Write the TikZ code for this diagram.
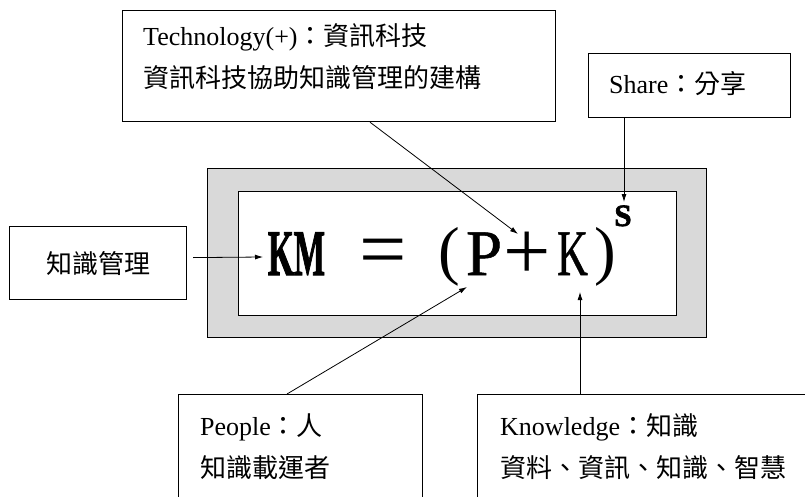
\documentclass[tikz,border=0pt]{standalone}
\usepackage{fontspec}
\setmainfont{Liberation Serif}
\newfontfamily\cjk{Noto Sans CJK TC}
\newfontfamily\heavyserif[FakeBold=2]{Liberation Serif Bold}
\newfontfamily\midserif[FakeBold=0.8]{Liberation Serif}
\usetikzlibrary{arrows.meta}

\begin{document}
\begin{tikzpicture}[x=1pt,y=-1pt,
  box/.style={draw, line width=1.2pt, inner sep=0pt, anchor=north west},
  lbl/.style={anchor=base west, inner sep=0pt, font=\fontsize{26}{26}\selectfont},
  conn/.style={line width=0.8pt, -{Latex[length=8pt,width=5pt]}},
  glyph/.style={anchor=base, inner sep=0pt}]
\useasboundingbox (0,0) rectangle (805,497);
\clip (0,0) rectangle (805,497);

% label boxes
\node[box, minimum width=433pt, minimum height=111pt] (tech) at (122,10) {};
\node[box, minimum width=202pt, minimum height=64pt] (share) at (588,53) {};
\node[box, minimum width=177pt, minimum height=73pt] (kmbox) at (9,226) {};
\node[box, minimum width=244pt, minimum height=140pt] (people) at (178,394) {};
\node[box, minimum width=360pt, minimum height=140pt] (know) at (477,394) {};

% formula frame
\node[box, fill=gray!30, minimum width=499pt, minimum height=169pt] (frame) at (207,168) {};
\node[box, fill=white, minimum width=438pt, minimum height=124pt] (inner) at (238,191) {};

% box texts
\node[lbl] (t1) at (143,46) {Technology(+){\cjk ：資訊科技}};
\node[lbl] (t2) at (143,88) {\cjk 資訊科技協助知識管理的建構};
\node[lbl] (s1) at (609,94) {Share{\cjk ：分享}};
\node[anchor=center, inner sep=0pt, font=\fontsize{26}{26}\selectfont] (k1) at (kmbox.center) {\cjk 知識管理};
\node[lbl] (p1) at (200,435) {People{\cjk ：人}};
\node[lbl] (p2) at (200,477) {\cjk 知識載運者};
\node[lbl] (n1) at (500,435) {Knowledge{\cjk ：知識}};
\node[lbl] (n2) at (500,477) {\cjk 資料、資訊、知識、智慧};

% formula KM = (P+K)^S
\node[glyph, xscale=0.51, font=\fontsize{65}{65}\heavyserif] (km) at (296.5,275) {KM};
\node[glyph, font=\fontsize{84}{84}\selectfont] (eq) at (383.5,277) {=};
\node[glyph, font=\fontsize{65}{65}\selectfont] (lp) at (449,272) {(};
\node[glyph, font=\fontsize{65}{65}\midserif] (pp) at (484,275) {P};
\node[glyph, font=\fontsize{84}{84}\selectfont] (plus) at (527.5,279) {+};
\node[glyph, xscale=0.66, font=\fontsize{65}{65}\midserif] (kk) at (572.5,275) {K};
\node[glyph, font=\fontsize{65}{65}\selectfont] (rp) at (605,272) {)};
\node[glyph, font=\fontsize{31}{31}\heavyserif] (ss) at (623,226) {S};

% arrow tips
\coordinate (techTip) at (518,234);
\coordinate (shareTip) at (624,202);
\coordinate (kmTip) at (263,257);
\coordinate (peopleTip) at (467,287);
\coordinate (knowTip) at (580,292);

% connectors
\draw[conn] ([xshift=248pt]tech.south west) -- (techTip);
\draw[conn] ([xshift=36pt]share.south west) -- (shareTip);
\draw[conn] ([xshift=6pt,yshift=5.5pt]kmbox.east) -- (kmTip);
\draw[conn] ([xshift=109pt]people.north west) -- (peopleTip);
\draw[conn] ([xshift=103pt]know.north west) -- (knowTip);
\end{tikzpicture}
\end{document}
